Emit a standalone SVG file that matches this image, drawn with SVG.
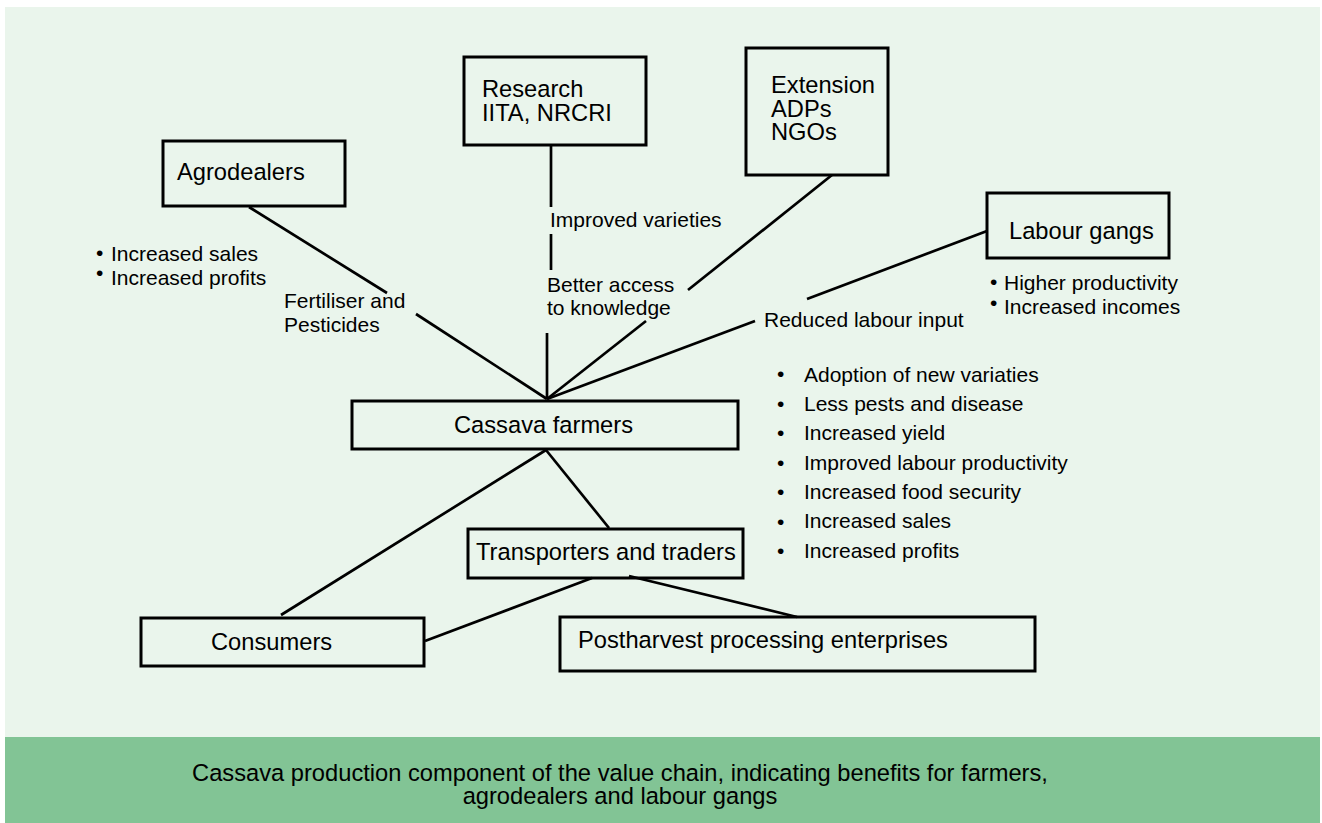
<svg xmlns="http://www.w3.org/2000/svg" width="1322" height="823" viewBox="0 0 1322 823">
<style>
.node{fill:none;stroke:#000;stroke-width:3}
.big{font-family:"Liberation Sans",Arial,sans-serif;font-size:23.7px;fill:#000}
.sm{font-family:"Liberation Sans",Arial,sans-serif;font-size:21px;fill:#000}
.conn line{stroke:#000;stroke-width:2.7;stroke-linecap:butt}
</style>
<rect x="0" y="0" width="1322" height="823" fill="#ffffff"/>
<rect x="5" y="7" width="1315" height="730" fill="#eaf5ec"/>
<rect x="5" y="737" width="1315" height="86" fill="#82c495"/>

<g id="connectors" class="conn">
<line x1="249" y1="207" x2="387" y2="293"/>
<line x1="416" y1="314" x2="547" y2="399"/>
<line x1="551" y1="145" x2="551" y2="207"/>
<line x1="551" y1="234" x2="551" y2="270"/>
<line x1="547" y1="333" x2="547" y2="399"/>
<line x1="832" y1="175" x2="688" y2="290"/>
<line x1="646" y1="321" x2="547" y2="399"/>
<line x1="987" y1="231" x2="807" y2="299"/>
<line x1="755" y1="321" x2="547" y2="399"/>
<line x1="546" y1="450" x2="281" y2="615"/>
<line x1="546" y1="450" x2="609" y2="528"/>
<line x1="592" y1="578" x2="425" y2="641"/>
<line x1="629" y1="576" x2="797" y2="617"/>
</g>

<g id="agrodealers">
<rect class="node" x="163" y="141" width="182" height="65"/>
<text class="big" x="177" y="180">Agrodealers</text>
</g>
<g id="research">
<rect class="node" x="464" y="57" width="182" height="88"/>
<text class="big"><tspan x="482" y="97">Research</tspan><tspan x="482" y="121">IITA, NRCRI</tspan></text>
</g>
<g id="extension">
<rect class="node" x="746" y="48" width="142" height="127"/>
<text class="big"><tspan x="771" y="93">Extension</tspan><tspan x="771" y="117">ADPs</tspan><tspan x="771" y="140">NGOs</tspan></text>
</g>
<g id="labour-gangs">
<rect class="node" x="987" y="193" width="182" height="65"/>
<text class="big" x="1009" y="239">Labour gangs</text>
</g>
<g id="cassava-farmers">
<rect class="node" x="352" y="401" width="386" height="48"/>
<text class="big" x="454" y="433">Cassava farmers</text>
</g>
<g id="transporters">
<rect class="node" x="468" y="529" width="275" height="49"/>
<text class="big" x="476" y="560">Transporters and traders</text>
</g>
<g id="consumers">
<rect class="node" x="141" y="618" width="283" height="48"/>
<text class="big" x="211" y="650">Consumers</text>
</g>
<g id="postharvest">
<rect class="node" x="560" y="617" width="475" height="54"/>
<text class="big" x="578" y="648">Postharvest processing enterprises</text>
</g>

<g id="edge-labels">
<text class="sm"><tspan x="284" y="308">Fertiliser and</tspan><tspan x="284" y="332">Pesticides</tspan></text>
<text class="sm" x="550" y="227">Improved varieties</text>
<text class="sm"><tspan x="547" y="292">Better access</tspan><tspan x="547" y="315">to knowledge</tspan></text>
<text class="sm" x="764" y="327">Reduced labour input</text>
</g>

<g id="agrodealer-benefits">
<text class="sm"><tspan x="96" y="260">•</tspan><tspan x="111" y="261">Increased sales</tspan><tspan x="96" y="280">•</tspan><tspan x="111" y="285">Increased profits</tspan></text>
</g>

<g id="labour-benefits">
<text class="sm"><tspan x="990" y="289">•</tspan><tspan x="1004" y="290">Higher productivity</tspan><tspan x="990" y="310">•</tspan><tspan x="1004" y="314">Increased incomes</tspan></text>
</g>

<g id="farmer-benefits">
<text class="sm">
<tspan x="777" y="381">•</tspan><tspan x="804" y="382">Adoption of new variaties</tspan>
<tspan x="777" y="411">•</tspan><tspan x="804" y="411">Less pests and disease</tspan>
<tspan x="777" y="440">•</tspan><tspan x="804" y="440">Increased yield</tspan>
<tspan x="777" y="470">•</tspan><tspan x="804" y="470">Improved labour productivity</tspan>
<tspan x="777" y="499">•</tspan><tspan x="804" y="499">Increased food security</tspan>
<tspan x="777" y="529">•</tspan><tspan x="804" y="528">Increased sales</tspan>
<tspan x="777" y="558">•</tspan><tspan x="804" y="558">Increased profits</tspan>
</text>
</g>

<g id="caption">
<text class="big" text-anchor="middle"><tspan x="620" y="781">Cassava production component of the value chain, indicating benefits for farmers,</tspan><tspan x="620" y="804">agrodealers and labour gangs</tspan></text>
</g>
</svg>
